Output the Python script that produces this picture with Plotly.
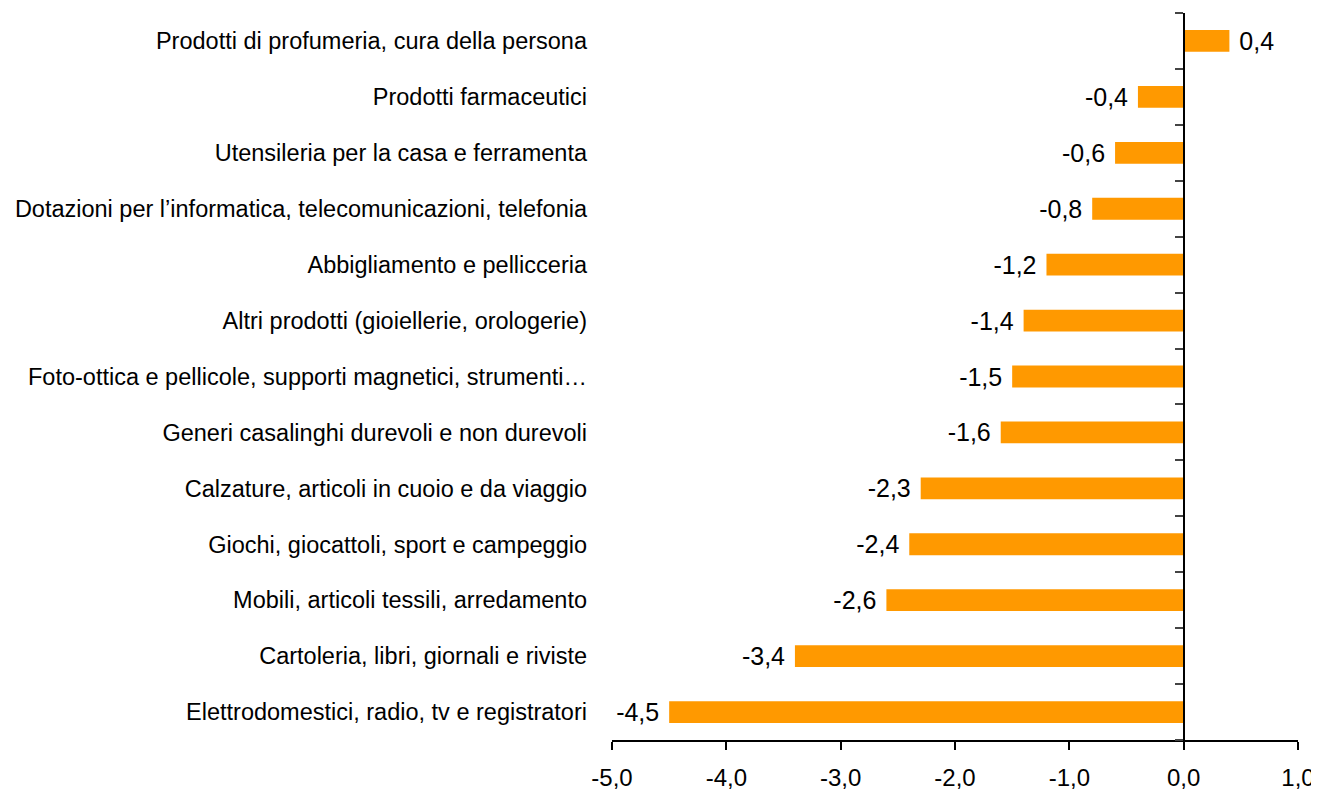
import plotly.graph_objects as go

categories = [
    "Elettrodomestici, radio, tv e registratori",
    "Cartoleria, libri, giornali e riviste",
    "Mobili, articoli tessili, arredamento",
    "Giochi, giocattoli, sport e campeggio",
    "Calzature, articoli in cuoio e da viaggio",
    "Generi casalinghi durevoli e non durevoli",
    "Foto-ottica e pellicole, supporti magnetici, strumenti…",
    "Altri prodotti (gioiellerie, orologerie)",
    "Abbigliamento e pellicceria",
    "Dotazioni per l’informatica, telecomunicazioni, telefonia",
    "Utensileria per la casa e ferramenta",
    "Prodotti farmaceutici",
    "Prodotti di profumeria, cura della persona",
]
values = [-4.5, -3.4, -2.6, -2.4, -2.3, -1.6, -1.5, -1.4, -1.2, -0.8, -0.6, -0.4, 0.4]
x_ticks = [-5, -4, -3, -2, -1, 0, 1]


def it_num(v):
    return f"{v:.1f}".replace(".", ",")


NBSP = "\u00a0"
# a non-breaking space on the bar side widens the gap between bar end and label
value_labels = [(it_num(v) + NBSP) if v < 0 else (NBSP + it_num(v)) for v in values]
x_tick_labels = [it_num(v) for v in x_ticks]

FONT = "Liberation Sans, Arial, sans-serif"

fig = go.Figure()
fig.add_trace(go.Bar(
    x=values, y=categories, orientation="h",
    marker=dict(color="#FF9900", line=dict(width=0)),
    width=0.39,
    text=value_labels, textposition="outside", constraintext="none",
    textfont=dict(size=25, color="#000000", family=FONT),
    cliponaxis=False, showlegend=False, hoverinfo="x+y",
))
# invisible trace carrying the category axis that is drawn at x = 0
fig.add_trace(go.Scatter(
    x=values, y=categories, yaxis="y2", mode="markers",
    marker=dict(size=0, opacity=0), hoverinfo="skip", showlegend=False,
))

# page body adds an 8px margin, so the figure is sized to fit the 1319x790 window
fig.update_layout(
    width=1311, height=782,
    margin=dict(l=604, r=21, t=5, b=50),
    paper_bgcolor="white", plot_bgcolor="white",
    font=dict(family=FONT, color="#000000"),
    xaxis=dict(
        range=[-5, 1], tickvals=x_ticks, ticktext=x_tick_labels,
        automargin=False,
        showgrid=False, zeroline=False,
        showline=True, linecolor="#000000", linewidth=2,
        ticks="outside", ticklen=8, tickwidth=1.5, tickcolor="#000000",
        ticklabelstandoff=7,
        tickfont=dict(size=24, family=FONT),
    ),
    yaxis=dict(
        type="category", categoryorder="array", categoryarray=categories,
        range=[-0.5, len(categories) - 0.5],
        automargin=False,
        showgrid=False, zeroline=False, showline=False,
        ticks="", ticklabelstandoff=24,
        tickfont=dict(size=23.5, family=FONT),
    ),
    yaxis2=dict(
        type="category", categoryorder="array", categoryarray=categories,
        range=[-0.5, len(categories) - 0.5],
        overlaying="y", anchor="free",
        position=(0 - (-5)) / (1 - (-5)),
        side="left", automargin=False,
        showgrid=False, zeroline=False, showticklabels=False,
        showline=True, linecolor="#000000", linewidth=2,
        ticks="outside", tickson="boundaries", ticklen=8, tickwidth=1.5, tickcolor="#444444",
    ),
)

fig.write_html("out.html")
